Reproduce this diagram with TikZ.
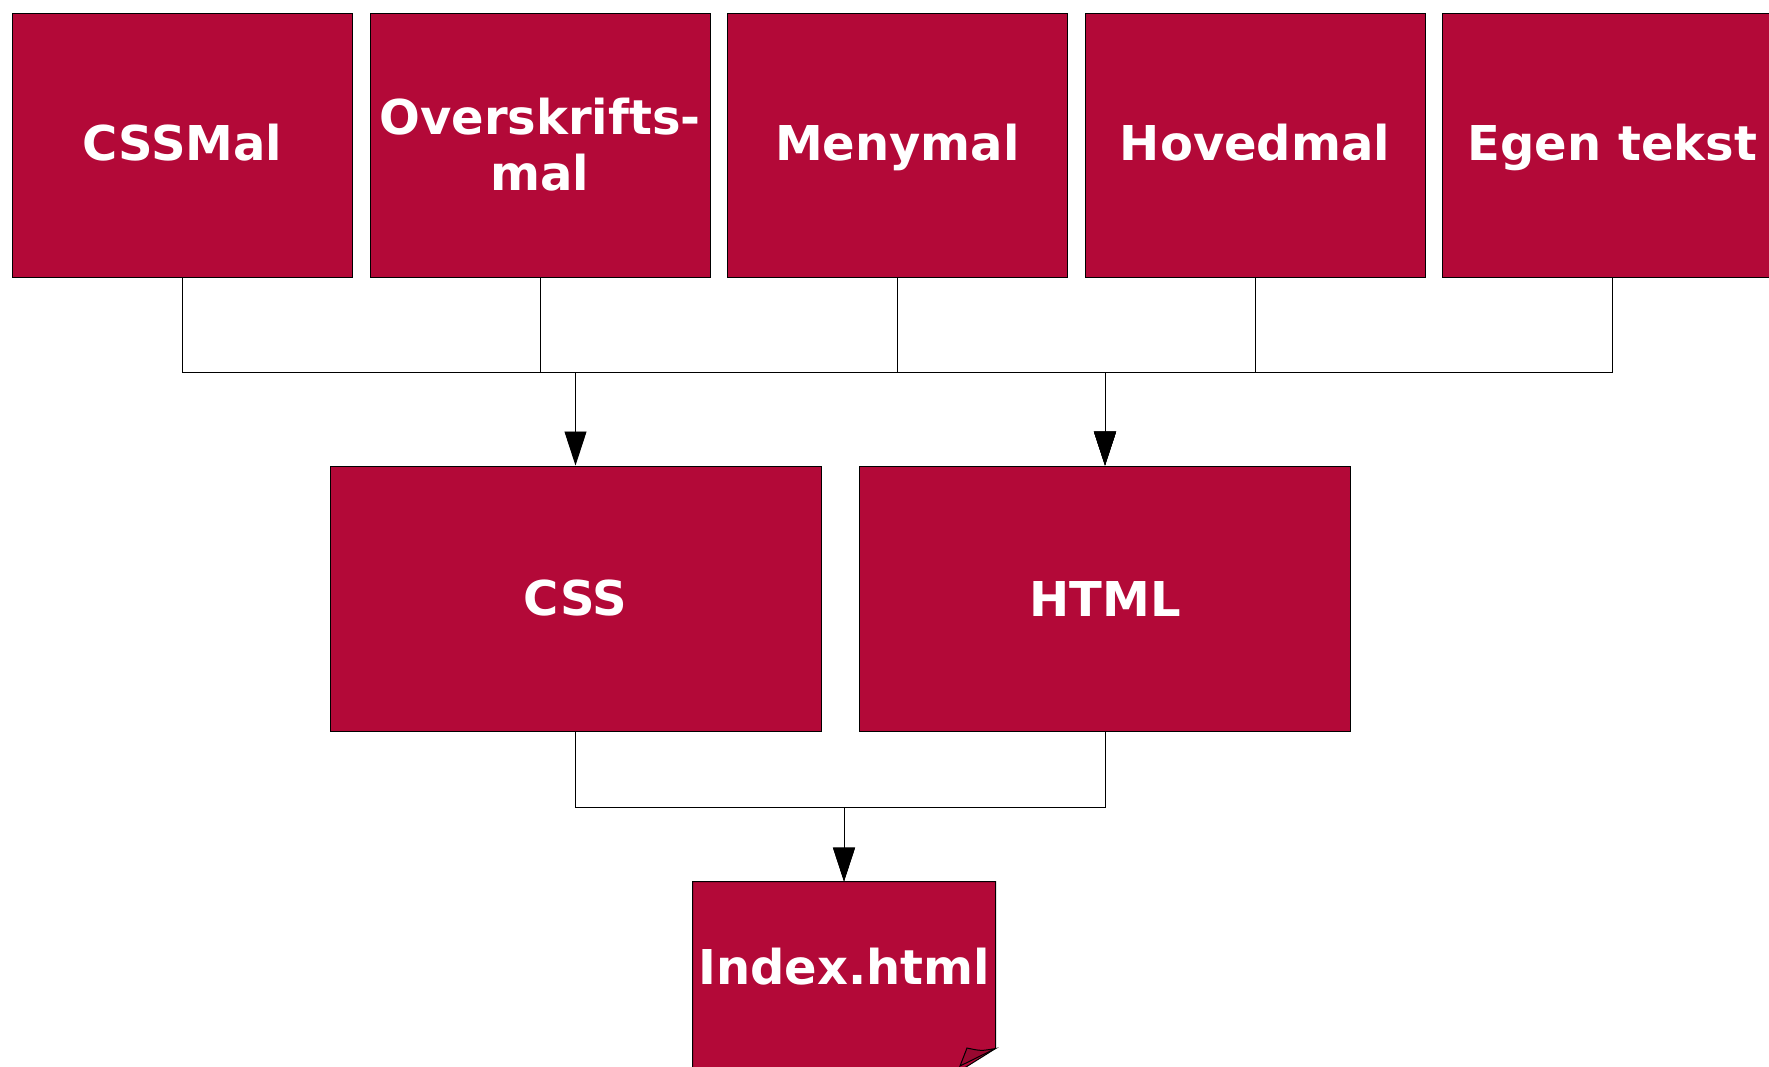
\documentclass[tikz,border=0pt]{standalone}
\usepackage{fontspec}
\setmainfont{DejaVu Sans}
\usetikzlibrary{arrows.meta,positioning,backgrounds}
\definecolor{boxred}{RGB}{179,9,56}

\begin{document}
\begin{tikzpicture}[x=1pt,y=1pt]

\tikzset{
  block/.style={rectangle, draw=black, line width=1pt, fill=boxred, text=white,
    font=\fontsize{48}{56}\selectfont\bfseries, align=center, inner sep=0pt},
  source/.style={block, minimum width=340pt, minimum height=264pt,
    text height=31pt, text depth=0pt},
  target/.style={block, minimum width=491pt, minimum height=265pt},
  link/.style={draw=black, line width=0.9pt},
  flow/.style={link, -{Triangle[length=34pt,width=22pt]}}
}

\useasboundingbox (0,0) rectangle (1769,-1066);

% templates
\node[source] (cssmal) at (182.5,-145) {CSSMal};
\node[source, right=16.5pt of cssmal, text height=, text depth=] (heading) {Overskrifts-\\mal};
\node[source, right=16.5pt of heading] (menu) {Menymal};
\node[source, right=16.5pt of menu] (main) {Hovedmal};
\node[source, right=16.5pt of main] (owntext) {Egen tekst};

% generated files
\node[target] (css) at (575.5,-598.5) {CSS};
\node[target] (html) at (1105,-598.5) {HTML};
\node[block, draw=none, fill=none, minimum width=302pt, minimum height=170pt]
  (index) at (844,-967) {Index.html};

\coordinate (bus) at (0,-372);
\coordinate (bus2) at (0,-807);

\draw[flow] (cssmal.south) -- (cssmal.south |- bus) -| (css.north);
\foreach \src in {heading,menu,main,owntext}
  \draw[flow] (\src.south) -- (\src.south |- bus) -| (html.north);

\draw[flow] (css.south) -- (css.south |- bus2) -| (index.north);
\draw[flow] (html.south) -- (html.south |- bus2) -| (index.north);

% page shape with curled corner
\begin{scope}[on background layer]
  \filldraw[fill=boxred, draw=black, line width=1pt]
    (index.north west) -- (index.north east) -- ([yshift=4pt]index.south east)
    -- (958,-1072) -- (index.west |- 0,-1072) -- cycle;
  \filldraw[fill=boxred!85!black, draw=black, line width=1pt]
    ([yshift=4pt]index.south east) .. controls (981,-1051) .. (967,-1048) -- (960,-1066) -- cycle;
\end{scope}

\end{tikzpicture}
\end{document}
